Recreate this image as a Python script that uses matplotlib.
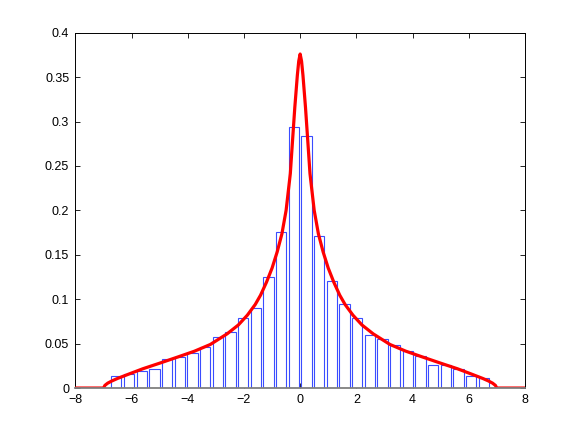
import numpy as np
import matplotlib
matplotlib.use("Agg")
import matplotlib.pyplot as plt

plt.rcParams["font.family"] = ["Liberation Sans", "DejaVu Sans"]

# histogram: 30 bins over the sample range
bin_edges = np.linspace(-6.765, 6.765, 31)
bar_heights = [
    0.0132, 0.0163, 0.0190, 0.0215, 0.0330, 0.0355, 0.0396, 0.0460, 0.0574, 0.0634,
    0.0792, 0.0898, 0.1250, 0.1753, 0.2940,
    0.2836, 0.1716, 0.1207, 0.0943, 0.0792, 0.0593, 0.0554, 0.0480, 0.0420, 0.0358,
    0.0264, 0.0264, 0.0215, 0.0132, 0.0113,
]

# density curve
curve_x = [
    -8.0, -7.0, -6.95, -6.85, -6.7, -6.5, -6.1, -5.6, -5.0, -4.35, -3.76, -3.2,
    -2.6, -2.2, -1.88, -1.6, -1.41, -1.2, -1.0, -0.82, -0.65, -0.5, -0.35, -0.27,
    -0.19, -0.1, -0.05, 0.0,
    0.05, 0.1, 0.19, 0.27, 0.35, 0.5, 0.65, 0.82, 1.0, 1.2, 1.41, 1.6, 1.88, 2.2,
    2.6, 3.2, 3.76, 4.35, 5.0, 5.6, 6.1, 6.5, 6.7, 6.85, 6.95, 7.0, 8.0,
]
curve_y = [
    0.0, 0.0, 0.003, 0.0055, 0.008, 0.0108, 0.0157, 0.0217, 0.028, 0.035, 0.0415, 0.049,
    0.061, 0.071, 0.082, 0.094, 0.1045, 0.119, 0.135, 0.153, 0.1735, 0.200, 0.2414, 0.279,
    0.316, 0.352, 0.368, 0.376,
    0.368, 0.352, 0.316, 0.279, 0.2414, 0.200, 0.1735, 0.153, 0.135, 0.119, 0.1045, 0.094,
    0.082, 0.071, 0.061, 0.049, 0.0415, 0.035, 0.028, 0.0217, 0.0157, 0.0108, 0.008,
    0.0055, 0.003, 0.0, 0.0,
]

centers = (bin_edges[:-1] + bin_edges[1:]) / 2
bin_w = bin_edges[1] - bin_edges[0]

fig = plt.figure(figsize=(5.8, 4.36), dpi=100)
ax = fig.add_axes([0.13, 0.11, 0.775, 0.815])

ax.bar(centers, bar_heights, width=0.8 * bin_w, facecolor="white",
       edgecolor="#3a4cff", linewidth=0.8, zorder=2)
ax.plot(curve_x, curve_y, color="red", linewidth=2.3, zorder=3,
        solid_joinstyle="round", solid_capstyle="round")

ax.set_xlim(-8, 8)
ax.set_ylim(0, 0.4)
ax.set_xticks(np.arange(-8, 9, 2))
ax.set_yticks(np.arange(0, 0.41, 0.05))
ax.set_yticklabels(["0", "0.05", "0.1", "0.15", "0.2", "0.25", "0.3", "0.35", "0.4"])

ax.tick_params(direction="in", top=True, right=True, length=3.5, width=0.6,
               labelsize=9, pad=4.5)
for s in ax.spines.values():
    s.set_linewidth(0.7)
ax.spines["bottom"].set_color("#808080")
ax.spines["bottom"].set_linewidth(1.3)
ax.spines["bottom"].set_zorder(4)

plt.savefig("out.png", dpi=100)
plt.close()
